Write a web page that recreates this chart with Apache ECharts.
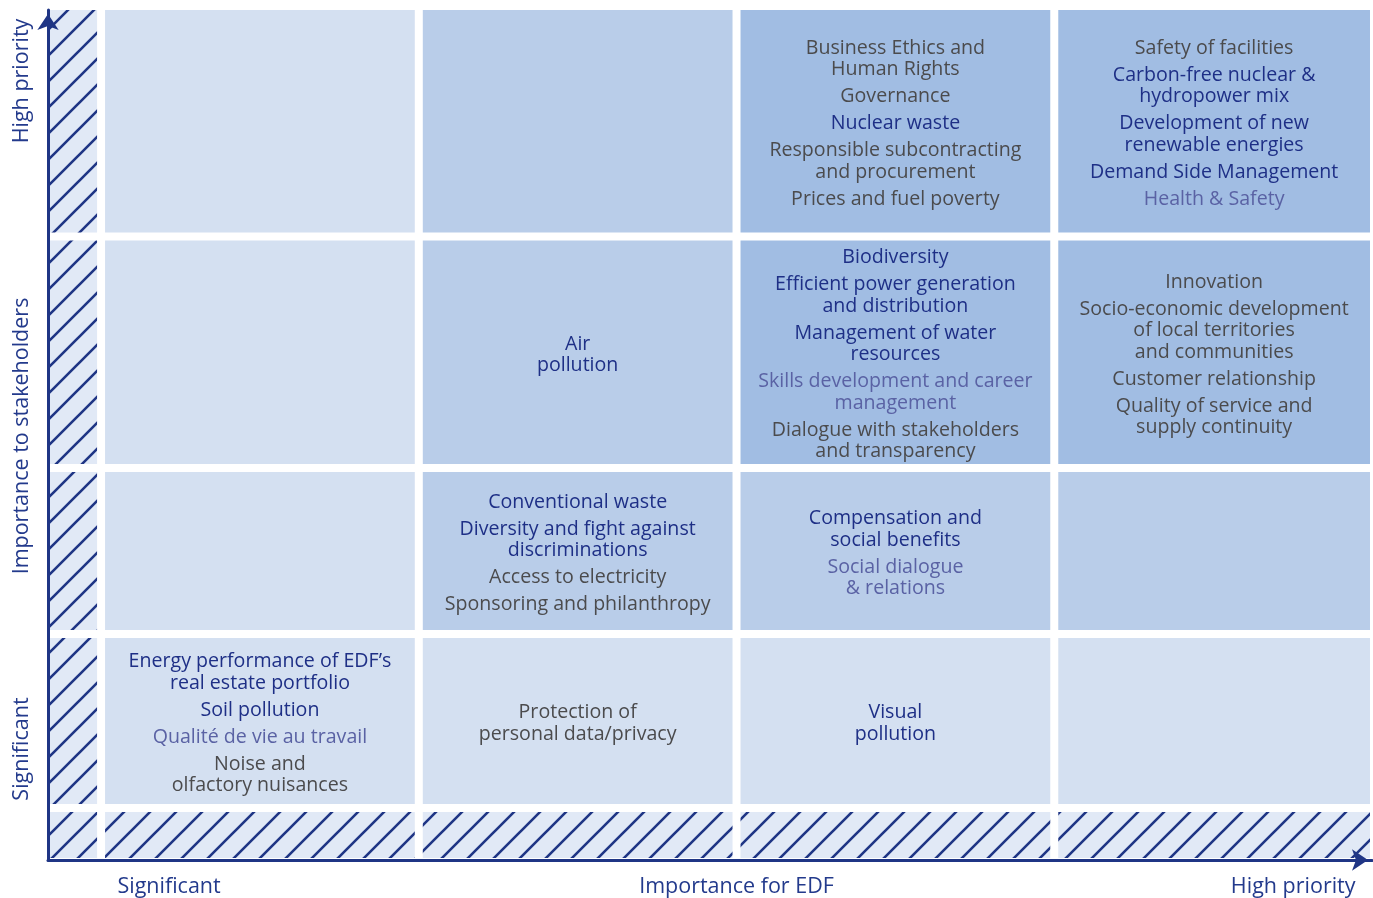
<!DOCTYPE html>
<html><head><meta charset="utf-8">
<script src="https://cdn.jsdelivr.net/npm/echarts@6/dist/echarts.min.js"></script>
<style>html,body{margin:0;padding:0;background:#fff}#c{width:1373px;height:898px}</style>
</head><body><div id="c"></div>
<script>
// ---------------- data ----------------
// Axis labels
const xTickLabels = ['Significant', 'Importance for EDF', 'High priority'];
const yTickLabels = ['Significant', 'Importance to stakeholders', 'High priority'];

// Shade level of each cell (row 0 = bottom "Significant", row 3 = top "High priority"; col 0 = left)
const shadeRow0 = [0, 0, 0, 0];
const shadeRow1 = [0, 1, 1, 1];
const shadeRow2 = [0, 1, 2, 2];
const shadeRow3 = [0, 1, 2, 2];

// Topics per cell: [text, colour class]  n = navy, g = grey, v = violet
const cellR3C2 = [['Business Ethics and\nHuman Rights', 'g'], ['Governance', 'g'], ['Nuclear waste', 'n'], ['Responsible subcontracting\nand procurement', 'g'], ['Prices and fuel poverty', 'g']];
const cellR3C3 = [['Safety of facilities', 'g'], ['Carbon-free nuclear &\nhydropower mix', 'n'], ['Development of new\nrenewable energies', 'n'], ['Demand Side Management', 'n'], ['Health & Safety', 'v']];
const cellR2C1 = [['Air\npollution', 'n']];
const cellR2C2 = [['Biodiversity', 'n'], ['Efficient power generation\nand distribution', 'n'], ['Management of water\nresources', 'n'], ['Skills development and career\nmanagement', 'v'], ['Dialogue with stakeholders\nand transparency', 'g']];
const cellR2C3 = [['Innovation', 'g'], ['Socio-economic development\nof local territories\nand communities', 'g'], ['Customer relationship', 'g'], ['Quality of service and\nsupply continuity', 'g']];
const cellR1C1 = [['Conventional waste', 'n'], ['Diversity and fight against\ndiscriminations', 'n'], ['Access to electricity', 'g'], ['Sponsoring and philanthropy', 'g']];
const cellR1C2 = [['Compensation and\nsocial benefits', 'n'], ['Social dialogue\n& relations', 'v']];
const cellR0C0 = [['Energy performance of EDF\u2019s\nreal estate portfolio', 'n'], ['Soil pollution', 'n'], ['Qualit\u00e9 de vie au travail', 'v'], ['Noise and\nolfactory nuisances', 'g']];
const cellR0C1 = [['Protection of\npersonal data/privacy', 'g']];
const cellR0C2 = [['Visual\npollution', 'n']];

// ---------------- layout / style ----------------
const shadeRows = [shadeRow0, shadeRow1, shadeRow2, shadeRow3];
const cellTopics = {
  '3,2': cellR3C2, '3,3': cellR3C3, '2,1': cellR2C1, '2,2': cellR2C2, '2,3': cellR2C3,
  '1,1': cellR1C1, '1,2': cellR1C2, '0,0': cellR0C0, '0,1': cellR0C1, '0,2': cellR0C2
};
const X_MIN = -0.167, X_MAX = 4;
const colEdges = [X_MIN, 0, 1, 2, 3, 4];             // col -1 = hatched strip
const rowEdges = [0, 52, 226, 392, 623.5, 850];      // row -1 = hatched strip (y axis units)
const xLabelPos = [0.214, 2.0, 3.752];
const yLabelPos = [111, 424, 779];
const shadeColors = ['#d4e0f1', '#b9cde9', '#a1bde3'];
const textColors = { n: '#1e2f86', g: '#4b4b4d', v: '#5a62a4' };
const NAVY = '#1f3585';
const FONT = '"Open Sans", "Noto Sans", sans-serif';
const LINE_H = 21.5, GAP = 5.5, FS = 19.6;

function hatchCanvas() {
  const s = 26, cv = document.createElement('canvas');
  cv.width = s; cv.height = s;
  const g = cv.getContext('2d');
  g.fillStyle = '#e1e9f6'; g.fillRect(0, 0, s, s);
  g.strokeStyle = NAVY; g.lineWidth = 2.6; g.lineCap = 'butt';
  g.beginPath();
  g.moveTo(-3, s + 3); g.lineTo(s + 3, -3);
  g.moveTo(-3, 3); g.lineTo(3, -3);
  g.moveTo(s - 3, s + 3); g.lineTo(s + 3, s - 3);
  g.stroke();
  return cv;
}
const hatch = { image: hatchCanvas(), repeat: 'repeat' };

const data = [];
for (let r = -1; r <= 3; r++) {
  for (let c = -1; c <= 3; c++) {
    const shade = (r < 0 || c < 0) ? -1 : shadeRows[r][c];
    data.push([c, r, shade]);
  }
}

function renderItem(params, api) {
  const c = api.value(0), r = api.value(1), shade = api.value(2);
  const p0 = api.coord([colEdges[c + 1], rowEdges[r + 2]]);
  const p1 = api.coord([colEdges[c + 2], rowEdges[r + 1]]);
  const l = p0[0] + (c === -1 ? 0 : 4);
  const rr = p1[0] - (c === 3 ? 2 : 4);
  const t = p0[1] + (r === 3 ? 0 : 4);
  const b = p1[1] - (r === -1 ? 2 : 4);
  const children = [{
    type: 'rect',
    shape: { x: l, y: t, width: rr - l, height: b - t },
    style: { fill: shade < 0 ? hatch : shadeColors[shade] }
  }];
  const items = cellTopics[r + ',' + c];
  if (items) {
    let nLines = 0;
    items.forEach(it => { nLines += it[0].split('\n').length; });
    const total = nLines * LINE_H + (items.length - 1) * GAP;
    const cx = (l + rr) / 2, cy = (t + b) / 2;
    let y = cy - total / 2 + LINE_H / 2 + 2.5;
    items.forEach((it, k) => {
      it[0].split('\n').forEach(line => {
        children.push({
          type: 'text',
          style: { text: line, x: cx, y: y, align: 'center', verticalAlign: 'middle',
                   fill: textColors[it[1]], fontSize: FS, fontFamily: FONT }
        });
        y += LINE_H;
      });
      y += GAP;
    });
  }
  return { type: 'group', children };
}

const chart = echarts.init(document.getElementById('c'));
chart.setOption({
  backgroundColor: '#ffffff',
  animation: false,
  grid: { left: 48, right: 1, top: 10, bottom: 38 },
  xAxis: {
    type: 'value', min: X_MIN, max: X_MAX, z: 10,
    splitLine: { show: false }, axisTick: { show: false },
    axisLine: { show: true, onZero: false, lineStyle: { color: NAVY, width: 3 }, symbol: ['none', 'arrow'], symbolSize: [16, 16], symbolOffset: [0, -4] },
    axisLabel: {
      customValues: xLabelPos, margin: 16, color: '#233a8c', fontSize: 21.5, fontFamily: FONT,
      showMinLabel: true, showMaxLabel: true, hideOverlap: false,
      formatter: function (v) { const i = xLabelPos.findIndex(p => Math.abs(p - v) < 1e-6); return i >= 0 ? xTickLabels[i] : ''; }
    }
  },
  yAxis: {
    type: 'value', min: 0, max: 850, z: 10,
    splitLine: { show: false }, axisTick: { show: false },
    axisLine: { show: true, onZero: false, lineStyle: { color: NAVY, width: 3 }, symbol: ['none', 'arrow'], symbolSize: [16, 16], symbolOffset: [0, -4] },
    axisLabel: {
      customValues: yLabelPos, rotate: 90, margin: 15, color: '#233a8c', fontSize: 21.5, fontFamily: FONT,
      showMinLabel: true, showMaxLabel: true, hideOverlap: false,
      formatter: function (v) { const i = yLabelPos.findIndex(p => Math.abs(p - v) < 1e-6); return i >= 0 ? yTickLabels[i] : ''; }
    }
  },
  series: [{
    type: 'custom',
    renderItem: renderItem,
    data: data,
    clip: false,
    silent: true
  }]
});
</script>
</body></html>
